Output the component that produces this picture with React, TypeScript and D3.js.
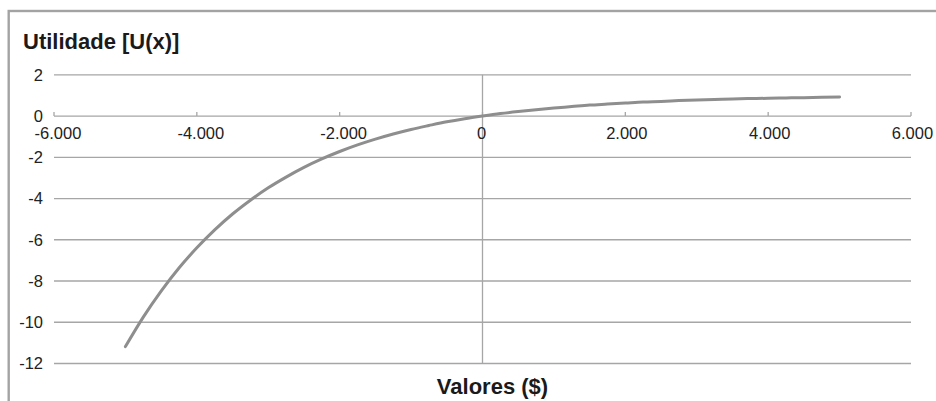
import React from "react";
import * as d3 from "d3";

const xValues = [
  -5000, -4750, -4500, -4250, -4000, -3750, -3500, -3250, -3000, -2750,
  -2500, -2250, -2000, -1750, -1500, -1250, -1000, -750, -500, -250,
  0, 250, 500, 750, 1000, 1250, 1500, 1750, 2000, 2250,
  2500, 2750, 3000, 3250, 3500, 3750, 4000, 4250, 4500, 4750, 5000,
];
const utilityValues = [
  -11.18, -9.75, -8.49, -7.37, -6.39, -5.52, -4.75, -4.08, -3.48, -2.96,
  -2.49, -2.08, -1.72, -1.40, -1.12, -0.87, -0.65, -0.46, -0.28, -0.13,
  0, 0.12, 0.22, 0.31, 0.39, 0.46, 0.53, 0.58, 0.63, 0.68,
  0.71, 0.75, 0.78, 0.80, 0.83, 0.85, 0.86, 0.88, 0.89, 0.91, 0.92,
];
const xTicks = [-6000, -4000, -2000, 0, 2000, 4000, 6000];
const yTicks = [2, 0, -2, -4, -6, -8, -10, -12];
const title = "Utilidade [U(x)]";
const xTitle = "Valores ($)";

const fmt = (v: number) => {
  if (v === 0) return "0";
  const s = d3.format(",")(v).replace(/,/g, ".");
  return s.replace("−", "-");
};

export default function App() {
  const W = 936;
  const H = 401;
  const x = d3.scaleLinear().domain([-6000, 6000]).range([54, 911]);
  const y = d3.scaleLinear().domain([2, -12]).range([74.8, 363.5]);
  const data = xValues.map((v, i) => [v, utilityValues[i]] as [number, number]);
  const line = d3
    .line<[number, number]>()
    .x((d) => x(d[0]))
    .y((d) => y(d[1]))
    .curve(d3.curveMonotoneX);
  const font = "'Liberation Sans', Arial, sans-serif";
  return (
    <div style={{ position: "absolute", left: 0, top: 0 }}>
      <svg width={W} height={H} style={{ display: "block" }}>
        <rect x={0} y={0} width={W} height={H} fill="#ffffff" />
        <rect x={8.7} y={11} width={1000} height={600} fill="none" stroke="#a3a3a3" strokeWidth={2.4} />
        <text x={23} y={48.5} fontFamily={font} fontWeight="bold" fontSize={22} fill="#1a1a1a">
          {title}
        </text>
        {yTicks.map((t) => (
          <g key={"gy" + t}>
            <line x1={54} x2={911} y1={y(t)} y2={y(t)} stroke="#a6a6a6" strokeWidth={1.3} />
            <text
              x={43}
              y={y(t)}
              dy="0.35em"
              textAnchor="end"
              fontFamily={font}
              fontSize={16.5}
              fill="#222"
            >
              {t}
            </text>
          </g>
        ))}
        <line x1={x(0)} x2={x(0)} y1={y(2)} y2={y(-12)} stroke="#a6a6a6" strokeWidth={1.3} />
        {xTicks.map((t) => (
          <g key={"gx" + t}>
            <line x1={x(t)} x2={x(t)} y1={y(0) - 4} y2={y(0)} stroke="#a6a6a6" strokeWidth={1.3} />
            <text
              x={x(t) + (t < 0 ? 4 : t > 0 ? 1.5 : -1)}
              y={139}
              textAnchor="middle"
              fontFamily={font}
              fontSize={16.5}
              fill="#222"
            >
              {fmt(t)}
            </text>
          </g>
        ))}
        <path d={line(data) || ""} fill="none" stroke="#8e8e8e" strokeWidth={3} strokeLinecap="round" />
        <text
          x={492.5}
          y={393.5}
          textAnchor="middle"
          fontFamily={font}
          fontWeight="bold"
          fontSize={22}
          fill="#1a1a1a"
        >
          {xTitle}
        </text>
      </svg>
    </div>
  );
}
